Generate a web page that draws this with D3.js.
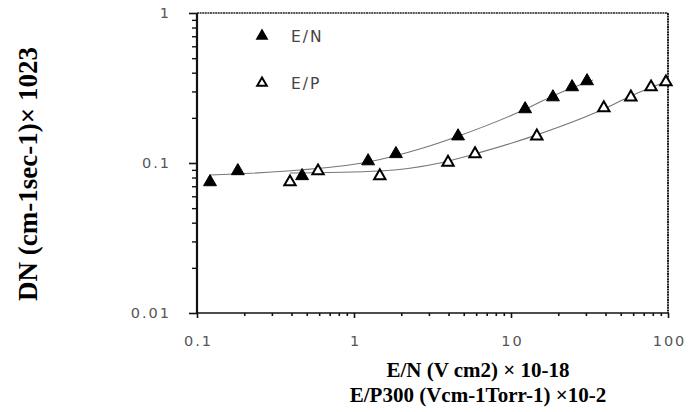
<!DOCTYPE html>
<html><head><meta charset="utf-8">
<script src="https://cdn.jsdelivr.net/npm/d3@7"></script>
<style>body{margin:0;background:#fff}svg{display:block}</style>
</head><body><svg id="c" width="691" height="412"></svg>
<script>
// ---- data ----
const enX = [0.121, 0.182, 0.467, 1.23, 1.85, 4.6, 12.3, 18.5, 24.5, 30.5];
const enY = [0.0747, 0.0885, 0.082, 0.103, 0.115, 0.151, 0.229, 0.275, 0.321, 0.352];
const epX = [0.391, 0.59, 1.46, 3.97, 5.9, 14.6, 39, 58, 78, 97];
const epY = [0.0747, 0.0885, 0.082, 0.101, 0.115, 0.151, 0.233, 0.275, 0.321, 0.347];
const enFitX = [0.121, 0.454, 1.23, 2.62, 4.6, 12.3, 18.5, 33.3];
const enFitY = [0.0832, 0.0898, 0.1016, 0.124, 0.151, 0.228, 0.28, 0.357];
const epFitX = [0.39, 1.46, 3.53, 5.9, 14.6, 39, 58, 100];
const epFitY = [0.0858, 0.0885, 0.1, 0.115, 0.154, 0.229, 0.28, 0.352];
const xTicks = [0.1, 1, 10, 100];
const xTickLabels = ["0.1", "1", "10", "100"];
const yTicks = [0.01, 0.1, 1];
const yTickLabels = ["0.01", "0.1", "1"];
const seriesNames = ["E/N", "E/P"];
const xTitle1 = "E/N (V cm2) × 10-18";
const xTitle2 = "E/P300 (Vcm-1Torr-1) ×10-2";
const yTitle = "DN (cm-1sec-1)× 1023";

// ---- layout ----
const L = 197, R = 668, T = 13, B = 313;
const svg = d3.select("#c");
const x = d3.scaleLog().domain([0.1, 100]).range([L, R]);
const y = d3.scaleLog().domain([0.01, 1]).range([B, T]);

const minorX = [];
[0.1, 1, 10].forEach(d => { for (let k = 2; k <= 9; k++) minorX.push(+(d * k).toPrecision(3)); });
const minorY = [];
[0.01, 0.1].forEach(d => { for (let k = 2; k <= 9; k++) minorY.push(+(d * k).toPrecision(3)); });

const tickFont = "'DejaVu Sans', sans-serif";

// minor ticks
svg.append("g").attr("transform", `translate(0,${B})`)
  .call(d3.axisBottom(x).tickValues(minorX).tickSize(3).tickFormat(""))
  .call(g => g.select(".domain").remove())
  .call(g => g.selectAll("line").attr("stroke", "#111").attr("stroke-width", 1.6));
svg.append("g").attr("transform", `translate(${L},0)`)
  .call(d3.axisLeft(y).tickValues(minorY).tickSize(5).tickFormat(""))
  .call(g => g.select(".domain").remove())
  .call(g => g.selectAll("line").attr("stroke", "#111").attr("stroke-width", 1.4));

// major axes
const xa = svg.append("g").attr("transform", `translate(0,${B})`)
  .call(d3.axisBottom(x).tickValues(xTicks).tickSize(5).tickPadding(18)
    .tickFormat((d, i) => xTickLabels[i]));
xa.select(".domain").remove();
xa.selectAll("line").attr("stroke", "#111").attr("stroke-width", 1.6);
xa.selectAll("text").attr("font-family", tickFont).attr("font-size", 14.5)
  .attr("letter-spacing", "2px").attr("fill", "#555").attr("dx", "1px");

const ya = svg.append("g").attr("transform", `translate(${L},0)`)
  .call(d3.axisLeft(y).tickValues(yTicks).tickSize(8).tickPadding(18)
    .tickFormat((d, i) => yTickLabels[i]));
ya.select(".domain").remove();
ya.selectAll("line").attr("stroke", "#111").attr("stroke-width", 1.6);
ya.selectAll("text").attr("font-family", tickFont).attr("font-size", 14.5)
  .attr("letter-spacing", "2px").attr("fill", "#555");

// frame
svg.append("line").attr("x1", L).attr("x2", R).attr("y1", B).attr("y2", B)
  .attr("stroke", "#111").attr("stroke-width", 1.6);
svg.append("line").attr("x1", L).attr("x2", L).attr("y1", T).attr("y2", B)
  .attr("stroke", "#111").attr("stroke-width", 2.2);
svg.append("line").attr("x1", L).attr("x2", R).attr("y1", T).attr("y2", T)
  .attr("stroke", "#222").attr("stroke-width", 1.5).attr("stroke-dasharray", "2,0.6");
svg.append("line").attr("x1", R).attr("x2", R).attr("y1", T).attr("y2", B)
  .attr("stroke", "#222").attr("stroke-width", 2).attr("stroke-dasharray", "2,0.6");

// fit lines
const line = d3.line().x(d => x(d[0])).y(d => y(d[1])).curve(d3.curveMonotoneX);
[[enFitX, enFitY], [epFitX, epFitY]].forEach(([fx, fy]) => {
  svg.append("path").attr("d", line(fx.map((v, i) => [v, fy[i]])))
    .attr("fill", "none").attr("stroke", "#777").attr("stroke-width", 1.1);
});

// markers
const tri = d3.symbol().type(d3.symbolTriangle).size(72);
svg.append("g").selectAll("path").data(enX.map((v, i) => [v, enY[i]])).join("path")
  .attr("d", tri).attr("transform", d => `translate(${x(d[0])},${y(d[1])})`)
  .attr("fill", "#000").attr("stroke", "#000").attr("stroke-width", 1);
svg.append("g").selectAll("path").data(epX.map((v, i) => [v, epY[i]])).join("path")
  .attr("d", d3.symbol().type(d3.symbolTriangle).size(56)).attr("transform", d => `translate(${x(d[0])},${y(d[1])})`)
  .attr("fill", "#fff").attr("stroke", "#000").attr("stroke-width", 2);

// legend
const lg = svg.append("g");
lg.append("path").attr("d", tri).attr("transform", "translate(262,36)").attr("fill", "#000");
lg.append("path").attr("d", d3.symbol().type(d3.symbolTriangle).size(40)).attr("transform", "translate(262,83)")
  .attr("fill", "#fff").attr("stroke", "#000").attr("stroke-width", 2);
[[seriesNames[0], 36], [seriesNames[1], 83]].forEach(([t, yy]) => {
  lg.append("text").attr("x", 291).attr("y", yy).attr("dy", "0.36em").text(t)
    .attr("font-family", tickFont).attr("font-size", 15.5).attr("letter-spacing", "2px").attr("fill", "#444");
});

// titles
const serif = "'Liberation Serif', 'Times New Roman', serif";
svg.append("text").attr("x", 478).attr("y", 377).attr("text-anchor", "middle").text(xTitle1)
  .attr("font-family", serif).attr("font-weight", "bold").attr("font-size", 21).attr("fill", "#000");
svg.append("text").attr("x", 478).attr("y", 402).attr("text-anchor", "middle").text(xTitle2)
  .attr("font-family", serif).attr("font-weight", "bold").attr("font-size", 21).attr("fill", "#000");
svg.append("text").attr("transform", "translate(37,174) rotate(-90)").attr("text-anchor", "middle").text(yTitle)
  .attr("font-family", serif).attr("font-weight", "bold").attr("font-size", 27).attr("fill", "#000");
</script>
</body></html>
